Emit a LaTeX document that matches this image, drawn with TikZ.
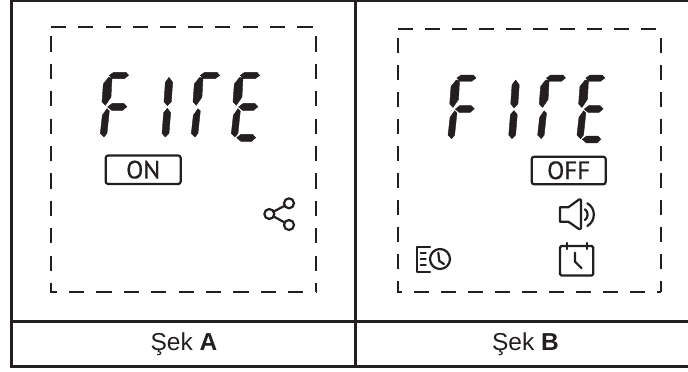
\documentclass[tikz,border=0pt]{standalone}
\usepackage{fontspec}
\setmainfont{Liberation Sans}
\newfontfamily\lcdfont[FakeBold=0.7]{PT Sans}
\definecolor{ink}{HTML}{231F20}
% seven-segment pieces, in crop units (1/3 px); #1 = horizontal offset
\newcommand{\segtop}[1]{\path[segfill,shift={(#1,0)}] (208,76) -- (221,67) -- (258,67) -- (266,76) -- (253,86) -- (217,86) -- cycle;}
\newcommand{\segul}[1]{\path[segfill,shift={(#1,0)}] (216,84) -- (213,141) -- (196,166) -- (186,155) -- (190,102) -- (206,82) -- cycle;}
\newcommand{\segmid}[1]{\path[segfill,shift={(#1,0)}] (203,171) -- (217,160) -- (251,160) -- (261,170) -- (248,181) -- (215,181) -- cycle;}
\newcommand{\segll}[1]{\path[segfill,shift={(#1,0)}] (208,183) -- (201,250) -- (192,261) -- (181,250) -- (187,196) -- (201,176) -- cycle;}
\newcommand{\segbot}[1]{\path[segfill,shift={(#1,0)}] (197,263) -- (210,253) -- (245,253) -- (254,263) -- (242,274) -- (210,274) -- cycle;}
\newcommand{\firedigits}{%
\segtop{0}\segul{0}\segmid{0}\segll{0}
\path[segfill] (387,82) -- (398,97) -- (394,155) -- (382,167) -- (372,155) -- (376,97) -- cycle;
\path[segfill] (382,175) -- (392,188) -- (387,250) -- (376,261) -- (366,250) -- (371,188) -- cycle;
\segtop{273}\segul{273}\segll{273}
\segtop{393}\segul{393}\segmid{393}\segll{393}\segbot{393}}
\tikzset{
 segfill/.style={fill=ink,draw=ink,line width=0.4pt,line join=round},
 grid/.style={draw=ink,line width=2.7pt},
 dashA/.style={draw=ink,line width=2pt,dash pattern=on 15.2pt off 12.2pt},
 dashB/.style={draw=ink,line width=2pt,dash pattern=on 15pt off 12pt},
 icon/.style={draw=ink,line width=2.2pt,line join=round,line cap=round},
 modebox/.style={draw=ink,line width=2.2pt,rounded corners=2.5pt,fill=white},
 modetext/.style={font=\lcdfont\fontsize{25}{25}\selectfont,text=ink,inner sep=0pt},
 captext/.style={font=\fontsize{24.5}{24.5}\selectfont,text=ink,inner sep=0pt}
}
\begin{document}
\begin{tikzpicture}[x=1pt,y=-1pt]
\useasboundingbox (0,0) rectangle (688,372);
\fill[white] (0,0) rectangle (688,372);
\begin{scope}
\clip (0,0) rectangle (688,372);
% table
\draw[grid] (690,1) -- (11.7,1) -- (11.7,366.8) -- (690,366.8);
\draw[grid] (355.7,0) -- (355.7,366.8);
\draw[grid] (11.7,321.5) -- (690,321.5);
\end{scope}
\node[captext] (capa) at (184,344) {Şek \textbf{A}};
\node[captext] (capb) at (525.5,344) {Şek \textbf{B}};
% dashed frames
\draw[dashA] (50.7,27) -- (316,27);
\draw[dashA] (50.7,36.3) -- (50.7,292) -- (316,292);
\draw[dashA] (316,36.3) -- (316,292);
\draw[dashB] (397.7,29.3) -- (660.7,29.3);
\draw[dashB] (397.7,38) -- (397.7,291.7) -- (660.7,291.7);
\draw[dashB] (660.7,38) -- (660.7,291.7);
% LCD
\begin{scope}[shift={(40,50)},x=0.3333pt,y=-0.3333pt]\firedigits\end{scope}
\begin{scope}[shift={(388.7,53.07)},x=0.328pt,y=-0.328pt]\firedigits\end{scope}
% mode boxes
\draw[modebox] (105.7,155.5) rectangle (180.7,184);
\node[modetext] (on) at (143.2,169.7) {ON};
\draw[modebox] (531.7,156.7) rectangle (605.7,184.3);
\node[modetext] (off) at (568.7,170.3) {OFF};
% share
\draw[icon] (289,203.3) circle (5);
\draw[icon] (269.3,214) circle (5);
\draw[icon] (289,225) circle (5);
\draw[icon] (273.7,211.5) -- (284.6,205.8);
\draw[icon] (273.7,216.5) -- (284.6,222.5);
% speaker
\draw[icon] (560,207.3) -- (568.3,207.3) -- (579.3,199.3) -- (581,200) -- (581,228.3) -- (579.3,229.3) -- (568.3,221.7) -- (560,221.7) -- cycle;
\draw[icon] (585,209.3) .. controls (588.5,212) and (588.5,217.5) .. (585,220);
\draw[icon] (587.3,203.3) .. controls (596,208) and (596,221) .. (587.3,226);
% calendar
\draw[icon,rounded corners=1.5pt] (560,246) rectangle (593.3,275.5);
\draw[icon] (566.7,243) -- (566.7,249);
\draw[icon] (586.7,243) -- (586.7,249);
\draw[icon] (575,252.7) -- (575,261.7) -- (581.7,268.3);
% history
\draw[icon] (430,246.7) -- (416.7,246.7) -- (416.7,271.7) -- (430,271.7);
\draw[icon] (420.7,252.7) -- (425.7,252.7);
\draw[icon] (420.7,259) -- (425.7,259);
\draw[icon] (420.7,265.3) -- (425.7,265.3);
\draw[icon] (440,259) circle (10);
\draw[icon] (438.3,252.7) -- (439.3,261) -- (444,264);
\end{tikzpicture}
\end{document}
